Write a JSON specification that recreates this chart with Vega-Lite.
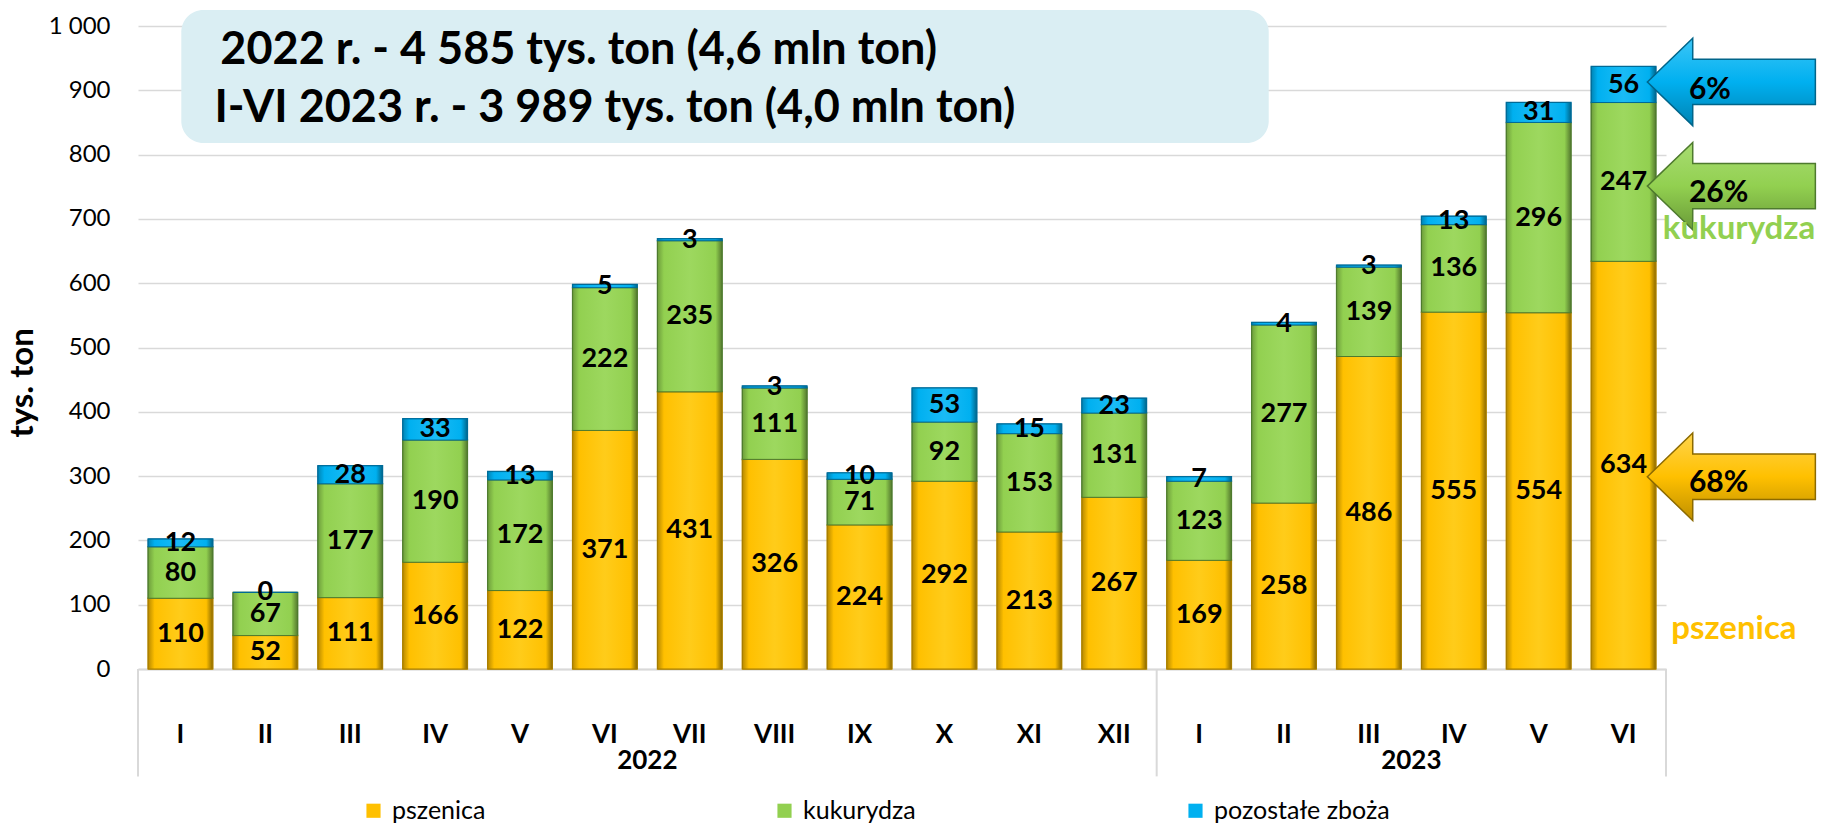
{
  "$schema": "https://vega.github.io/schema/vega-lite/v6.json",
  "width": 1528,
  "height": 643,
  "autosize": "none",
  "padding": {"left": 138, "top": 26, "right": 156, "bottom": 159},
  "config": {
    "view": {"stroke": null},
    "font": "Lato",
    "text": {"font": "Lato"},
    "axisY": {"labelFont": "Lato", "labelFontSize": 24, "labelColor": "#000"}
  },
  "layer": [
    {
      "data": {"values": [
        {"key": "2022-I", "series": "pszenica", "value": 110},
        {"key": "2022-I", "series": "kukurydza", "value": 80},
        {"key": "2022-I", "series": "pozostałe zboża", "value": 12},
        {"key": "2022-II", "series": "pszenica", "value": 52},
        {"key": "2022-II", "series": "kukurydza", "value": 67},
        {"key": "2022-II", "series": "pozostałe zboża", "value": 0},
        {"key": "2022-III", "series": "pszenica", "value": 111},
        {"key": "2022-III", "series": "kukurydza", "value": 177},
        {"key": "2022-III", "series": "pozostałe zboża", "value": 28},
        {"key": "2022-IV", "series": "pszenica", "value": 166},
        {"key": "2022-IV", "series": "kukurydza", "value": 190},
        {"key": "2022-IV", "series": "pozostałe zboża", "value": 33},
        {"key": "2022-V", "series": "pszenica", "value": 122},
        {"key": "2022-V", "series": "kukurydza", "value": 172},
        {"key": "2022-V", "series": "pozostałe zboża", "value": 13},
        {"key": "2022-VI", "series": "pszenica", "value": 371},
        {"key": "2022-VI", "series": "kukurydza", "value": 222},
        {"key": "2022-VI", "series": "pozostałe zboża", "value": 5},
        {"key": "2022-VII", "series": "pszenica", "value": 431},
        {"key": "2022-VII", "series": "kukurydza", "value": 235},
        {"key": "2022-VII", "series": "pozostałe zboża", "value": 3},
        {"key": "2022-VIII", "series": "pszenica", "value": 326},
        {"key": "2022-VIII", "series": "kukurydza", "value": 111},
        {"key": "2022-VIII", "series": "pozostałe zboża", "value": 3},
        {"key": "2022-IX", "series": "pszenica", "value": 224},
        {"key": "2022-IX", "series": "kukurydza", "value": 71},
        {"key": "2022-IX", "series": "pozostałe zboża", "value": 10},
        {"key": "2022-X", "series": "pszenica", "value": 292},
        {"key": "2022-X", "series": "kukurydza", "value": 92},
        {"key": "2022-X", "series": "pozostałe zboża", "value": 53},
        {"key": "2022-XI", "series": "pszenica", "value": 213},
        {"key": "2022-XI", "series": "kukurydza", "value": 153},
        {"key": "2022-XI", "series": "pozostałe zboża", "value": 15},
        {"key": "2022-XII", "series": "pszenica", "value": 267},
        {"key": "2022-XII", "series": "kukurydza", "value": 131},
        {"key": "2022-XII", "series": "pozostałe zboża", "value": 23},
        {"key": "2023-I", "series": "pszenica", "value": 169},
        {"key": "2023-I", "series": "kukurydza", "value": 123},
        {"key": "2023-I", "series": "pozostałe zboża", "value": 7},
        {"key": "2023-II", "series": "pszenica", "value": 258},
        {"key": "2023-II", "series": "kukurydza", "value": 277},
        {"key": "2023-II", "series": "pozostałe zboża", "value": 4},
        {"key": "2023-III", "series": "pszenica", "value": 486},
        {"key": "2023-III", "series": "kukurydza", "value": 139},
        {"key": "2023-III", "series": "pozostałe zboża", "value": 3},
        {"key": "2023-IV", "series": "pszenica", "value": 555},
        {"key": "2023-IV", "series": "kukurydza", "value": 136},
        {"key": "2023-IV", "series": "pozostałe zboża", "value": 13},
        {"key": "2023-V", "series": "pszenica", "value": 554},
        {"key": "2023-V", "series": "kukurydza", "value": 296},
        {"key": "2023-V", "series": "pozostałe zboża", "value": 31},
        {"key": "2023-VI", "series": "pszenica", "value": 634},
        {"key": "2023-VI", "series": "kukurydza", "value": 247},
        {"key": "2023-VI", "series": "pozostałe zboża", "value": 56}
      ]},
      "transform": [
        {"stack": "value", "groupby": ["key"], "as": ["y0", "y1"]},
        {"calculate": "(datum.y0 + datum.y1) / 2", "as": "ymid"}
      ],
      "encoding": {
        "x": {"field": "key", "type": "nominal", "sort": null,
          "scale": {"paddingInner": 0.24, "paddingOuter": 0.12},
          "axis": {"title": null, "labelExpr": "split(datum.label, '-')[1]", "labelFont": "Lato", "labelFontSize": 26, "labelFontWeight": "bold", "labelColor": "#000", "labelAngle": 0, "labelPadding": 65, "labelBaseline": "middle", "ticks": false, "domainColor": "#D9D9D9", "domainWidth": 2, "grid": false}},
        "y": {"field": "y0", "type": "quantitative",
          "scale": {"domain": [0, 1000], "nice": false},
          "axis": {"title": null, "labelPadding": 28, "ticks": false, "domain": false, "grid": true, "gridColor": "#D9D9D9", "gridWidth": 1.5, "values": [0, 100, 200, 300, 400, 500, 600, 700, 800, 900, 1000], "labelExpr": "replace(format(datum.value, ','), ',', ' ')"}},
        "y2": {"field": "y1"}
      },
      "layer": [
        {
          "mark": {"type": "bar", "strokeWidth": 1.5},
          "encoding": {
            "color": {"field": "series", "type": "nominal",
              "scale": {"domain": ["pszenica", "kukurydza", "pozostałe zboża"], "range": ["#FFC000", "#92D050", "#00B0F0"]},
              "legend": {"orient": "none", "legendX": 223, "legendY": 772, "direction": "horizontal", "title": null, "symbolType": "square", "symbolSize": 200, "symbolStrokeWidth": 0, "labelFont": "Lato", "labelFontSize": 25, "labelColor": "#000", "labelOffset": 6, "labelLimit": 400, "gridAlign": "all", "columnPadding": 204, "padding": 0}},
            "stroke": {"field": "series", "type": "nominal",
              "scale": {"domain": ["pszenica", "kukurydza", "pozostałe zboża"], "range": ["#BF8F00", "#548235", "#0070A0"]},
              "legend": null}
          }
        },
        {
          "transform": [{"filter": "datum.series === 'pszenica'"}],
          "mark": {"type": "bar", "stroke": "#A67C00", "strokeWidth": 1, "color": {"gradient": "linear", "x1": 0, "x2": 1, "y1": 0, "y2": 0, "stops": [{"offset": 0, "color": "#B88A00"}, {"offset": 0.1, "color": "#FFC000"}, {"offset": 0.5, "color": "#FFCC1A"}, {"offset": 0.9, "color": "#FFC000"}, {"offset": 1, "color": "#8C6A00"}]}}
        },
        {
          "transform": [{"filter": "datum.series === 'kukurydza'"}],
          "mark": {"type": "bar", "stroke": "#4E7A2E", "strokeWidth": 1, "color": {"gradient": "linear", "x1": 0, "x2": 1, "y1": 0, "y2": 0, "stops": [{"offset": 0, "color": "#6E9E3C"}, {"offset": 0.1, "color": "#92D050"}, {"offset": 0.5, "color": "#9DD85F"}, {"offset": 0.9, "color": "#92D050"}, {"offset": 1, "color": "#557A2F"}]}}
        },
        {
          "transform": [{"filter": "datum.series === 'pozostałe zboża'"}],
          "mark": {"type": "bar", "stroke": "#006A96", "strokeWidth": 1, "color": {"gradient": "linear", "x1": 0, "x2": 1, "y1": 0, "y2": 0, "stops": [{"offset": 0, "color": "#0085B5"}, {"offset": 0.1, "color": "#00B0F0"}, {"offset": 0.5, "color": "#1ABBF5"}, {"offset": 0.9, "color": "#00B0F0"}, {"offset": 1, "color": "#00678C"}]}}
        },
        {
          "mark": {"type": "text", "fontSize": 27, "fontWeight": "bold", "color": "#000", "baseline": "middle"},
          "encoding": {
            "y": {"field": "ymid", "type": "quantitative"},
            "y2": null,
            "text": {"field": "value", "type": "quantitative"}
          }
        }
      ]
    },
    {
      "layer": [
        {
          "data": {"values": [{}]},
          "mark": {"type": "rect", "cornerRadius": 22, "color": "#DAEEF3"},
          "encoding": {
            "x": {"datum": 0.51, "type": "quantitative", "scale": {"domain": [0, 18]}, "axis": null},
            "x2": {"datum": 13.32},
            "y": {"datum": 1025, "type": "quantitative"},
            "y2": {"datum": 818}
          }
        },
        {
          "data": {"values": [{"line": "2022 r. - 4 585 tys. ton (4,6 mln ton)"}]},
          "mark": {"type": "text", "fontSize": 45, "fontWeight": "bold", "color": "#000", "align": "left", "baseline": "middle"},
          "encoding": {
            "x": {"datum": 0.97, "type": "quantitative", "scale": {"domain": [0, 18]}, "axis": null},
            "y": {"datum": 963, "type": "quantitative"},
            "text": {"field": "line"}
          }
        },
        {
          "data": {"values": [{"line": "I-VI 2023 r. - 3 989 tys. ton (4,0 mln ton)"}]},
          "mark": {"type": "text", "fontSize": 45, "fontWeight": "bold", "color": "#000", "align": "left", "baseline": "middle"},
          "encoding": {
            "x": {"datum": 0.9, "type": "quantitative", "scale": {"domain": [0, 18]}, "axis": null},
            "y": {"datum": 872, "type": "quantitative"},
            "text": {"field": "line"}
          }
        },
        {
          "data": {"values": [{"title": "tys. ton"}]},
          "mark": {"type": "text", "fontSize": 33, "fontWeight": "bold", "color": "#000", "angle": 270, "align": "center", "baseline": "middle"},
          "encoding": {
            "x": {"datum": -1.36, "type": "quantitative", "scale": {"domain": [0, 18]}, "axis": null},
            "y": {"datum": 445, "type": "quantitative"},
            "text": {"field": "title"}
          }
        },
        {
          "data": {"values": [{}]},
          "mark": {"type": "rule", "color": "#D9D9D9", "strokeWidth": 2},
          "encoding": {
            "x": {"datum": 0, "type": "quantitative", "scale": {"domain": [0, 18]}, "axis": null},
            "y": {"datum": 0, "type": "quantitative"},
            "y2": {"datum": -167}
          }
        },
        {
          "data": {"values": [{}]},
          "mark": {"type": "rule", "color": "#D9D9D9", "strokeWidth": 2},
          "encoding": {
            "x": {"datum": 12, "type": "quantitative", "scale": {"domain": [0, 18]}, "axis": null},
            "y": {"datum": 0, "type": "quantitative"},
            "y2": {"datum": -167}
          }
        },
        {
          "data": {"values": [{}]},
          "mark": {"type": "rule", "color": "#D9D9D9", "strokeWidth": 2},
          "encoding": {
            "x": {"datum": 18, "type": "quantitative", "scale": {"domain": [0, 18]}, "axis": null},
            "y": {"datum": 0, "type": "quantitative"},
            "y2": {"datum": -167}
          }
        },
        {
          "data": {"values": [{"year": "2022"}]},
          "mark": {"type": "text", "fontSize": 26, "fontWeight": "bold", "color": "#000", "baseline": "middle"},
          "encoding": {
            "x": {"datum": 6, "type": "quantitative", "scale": {"domain": [0, 18]}, "axis": null},
            "y": {"datum": -143, "type": "quantitative"},
            "text": {"field": "year"}
          }
        },
        {
          "data": {"values": [{"year": "2023"}]},
          "mark": {"type": "text", "fontSize": 26, "fontWeight": "bold", "color": "#000", "baseline": "middle"},
          "encoding": {
            "x": {"datum": 15, "type": "quantitative", "scale": {"domain": [0, 18]}, "axis": null},
            "y": {"datum": -143, "type": "quantitative"},
            "text": {"field": "year"}
          }
        },
        {
          "data": {"values": [{}]},
          "mark": {"type": "point", "filled": true, "size": 28224, "shape": "M-1,0 L-0.46,-0.52 L-0.46,-0.27 L1,-0.27 L1,0.27 L-0.46,0.27 L-0.46,0.52 Z", "fill": {"gradient": "linear", "x1": 0, "x2": 0, "y1": 0, "y2": 1, "stops": [{"offset": 0, "color": "#3CC6F7"}, {"offset": 0.5, "color": "#00B0F0"}, {"offset": 1, "color": "#0083B3"}]}, "stroke": "#00658A", "strokeWidth": 1.5, "opacity": 1},
          "encoding": {
            "x": {"datum": 18.77, "type": "quantitative", "scale": {"domain": [0, 18]}, "axis": null},
            "y": {"datum": 913, "type": "quantitative"}
          }
        },
        {
          "data": {"values": [{}]},
          "mark": {"type": "point", "filled": true, "size": 28224, "shape": "M-1,0 L-0.46,-0.52 L-0.46,-0.27 L1,-0.27 L1,0.27 L-0.46,0.27 L-0.46,0.52 Z", "fill": {"gradient": "linear", "x1": 0, "x2": 0, "y1": 0, "y2": 1, "stops": [{"offset": 0, "color": "#A8DC72"}, {"offset": 0.5, "color": "#92D050"}, {"offset": 1, "color": "#6A9B38"}]}, "stroke": "#4E7A2E", "strokeWidth": 1.5, "opacity": 1},
          "encoding": {
            "x": {"datum": 18.77, "type": "quantitative", "scale": {"domain": [0, 18]}, "axis": null},
            "y": {"datum": 751, "type": "quantitative"}
          }
        },
        {
          "data": {"values": [{}]},
          "mark": {"type": "point", "filled": true, "size": 28224, "shape": "M-1,0 L-0.46,-0.52 L-0.46,-0.27 L1,-0.27 L1,0.27 L-0.46,0.27 L-0.46,0.52 Z", "fill": {"gradient": "linear", "x1": 0, "x2": 0, "y1": 0, "y2": 1, "stops": [{"offset": 0, "color": "#FFD54D"}, {"offset": 0.5, "color": "#FFC000"}, {"offset": 1, "color": "#BF9000"}]}, "stroke": "#8C6A00", "strokeWidth": 1.5, "opacity": 1},
          "encoding": {
            "x": {"datum": 18.77, "type": "quantitative", "scale": {"domain": [0, 18]}, "axis": null},
            "y": {"datum": 299, "type": "quantitative"}
          }
        },
        {
          "data": {"values": [{"pct": "6%"}]},
          "mark": {"type": "text", "fontSize": 30, "fontWeight": "bold", "color": "#000", "align": "left", "baseline": "middle"},
          "encoding": {
            "x": {"datum": 18.27, "type": "quantitative", "scale": {"domain": [0, 18]}, "axis": null},
            "y": {"datum": 900, "type": "quantitative"},
            "text": {"field": "pct"}
          }
        },
        {
          "data": {"values": [{"pct": "26%"}]},
          "mark": {"type": "text", "fontSize": 30, "fontWeight": "bold", "color": "#000", "align": "left", "baseline": "middle"},
          "encoding": {
            "x": {"datum": 18.27, "type": "quantitative", "scale": {"domain": [0, 18]}, "axis": null},
            "y": {"datum": 740, "type": "quantitative"},
            "text": {"field": "pct"}
          }
        },
        {
          "data": {"values": [{"pct": "68%"}]},
          "mark": {"type": "text", "fontSize": 30, "fontWeight": "bold", "color": "#000", "align": "left", "baseline": "middle"},
          "encoding": {
            "x": {"datum": 18.27, "type": "quantitative", "scale": {"domain": [0, 18]}, "axis": null},
            "y": {"datum": 289, "type": "quantitative"},
            "text": {"field": "pct"}
          }
        },
        {
          "data": {"values": [{"name": "kukurydza"}]},
          "mark": {"type": "text", "fontSize": 33, "fontWeight": "bold", "color": "#92D050", "baseline": "middle"},
          "encoding": {
            "x": {"datum": 18.86, "type": "quantitative", "scale": {"domain": [0, 18]}, "axis": null},
            "y": {"datum": 684, "type": "quantitative"},
            "text": {"field": "name"}
          }
        },
        {
          "data": {"values": [{"name": "pszenica"}]},
          "mark": {"type": "text", "fontSize": 33, "fontWeight": "bold", "color": "#FFC000", "baseline": "middle"},
          "encoding": {
            "x": {"datum": 18.8, "type": "quantitative", "scale": {"domain": [0, 18]}, "axis": null},
            "y": {"datum": 62, "type": "quantitative"},
            "text": {"field": "name"}
          }
        }
      ]
    }
  ],
  "resolve": {"scale": {"x": "independent"}}
}
